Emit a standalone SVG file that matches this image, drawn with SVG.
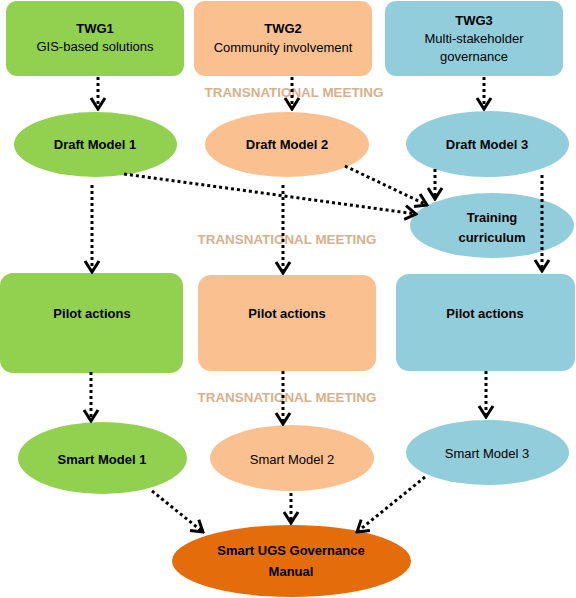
<svg xmlns="http://www.w3.org/2000/svg" width="576" height="598" viewBox="0 0 576 598">
<defs>
<style>
.g{fill:#92D050}.p{fill:#FAC090}.b{fill:#92CDDC}.o{fill:#E46C0A}
text{font-family:"Liberation Sans",Arial,sans-serif;font-size:13px;fill:#000;text-anchor:middle}
.bd{font-weight:bold}
.tm{font-weight:bold;fill:#D8B08C;font-size:13.4px}
.c{fill:none;stroke:#000;stroke-width:3;stroke-dasharray:3 3}
</style>
<marker id="ah" markerUnits="userSpaceOnUse" viewBox="-14 -9 16 18" markerWidth="16" markerHeight="18" refX="0" refY="0" orient="auto">
<path d="M-11,-7 L0,0 L-11,7" fill="none" stroke="#000" stroke-width="3" stroke-dasharray="none"/>
</marker>
</defs>
<g id="labels">
<text class="tm" x="294" y="97">TRANSNATIONAL MEETING</text>
<text class="tm" x="287" y="244">TRANSNATIONAL MEETING</text>
<text class="tm" x="287" y="402">TRANSNATIONAL MEETING</text>
</g>
<g id="twg1"><rect class="g" x="6" y="1" width="178" height="75" rx="11"/><text class="bd" x="95" y="33">TWG1</text><text x="95" y="51">GIS-based solutions</text></g>
<g id="twg2"><rect class="p" x="194" y="1" width="178" height="75" rx="11"/><text class="bd" x="283" y="33">TWG2</text><text x="283" y="52">Community involvement</text></g>
<g id="twg3"><rect class="b" x="385" y="1" width="178" height="75" rx="11"/><text class="bd" x="474" y="25">TWG3</text><text x="474" y="43">Multi-stakeholder</text><text x="474" y="61">governance</text></g>
<g id="draft1"><ellipse class="g" cx="95.5" cy="144.5" rx="81.5" ry="32.5"/><text class="bd" x="95" y="149">Draft Model 1</text></g>
<g id="draft2"><ellipse class="p" cx="287" cy="144.5" rx="82" ry="32.5"/><text class="bd" x="287" y="149">Draft Model 2</text></g>
<g id="draft3"><ellipse class="b" cx="487.5" cy="144" rx="81.5" ry="33"/><text class="bd" x="487" y="149">Draft Model 3</text></g>
<g id="training"><ellipse class="b" cx="492" cy="225.5" rx="82" ry="32.5"/><text class="bd" x="492" y="222">Training</text><text class="bd" x="492" y="242">curriculum</text></g>
<g id="pilot1"><rect class="g" x="0" y="273" width="183" height="100" rx="13"/><text class="bd" x="92" y="318">Pilot actions</text></g>
<g id="pilot2"><rect class="p" x="198" y="275" width="178" height="96" rx="13"/><text class="bd" x="287" y="318">Pilot actions</text></g>
<g id="pilot3"><rect class="b" x="396" y="274" width="179" height="97" rx="13"/><text class="bd" x="485" y="318">Pilot actions</text></g>
<g id="smart1"><ellipse class="g" cx="102.5" cy="458" rx="84.5" ry="36"/><text class="bd" x="102" y="464">Smart Model 1</text></g>
<g id="smart2"><ellipse class="p" cx="292" cy="458" rx="82" ry="33"/><text x="292" y="464">Smart Model 2</text></g>
<g id="smart3"><ellipse class="b" cx="487.5" cy="452.5" rx="81.5" ry="32.5"/><text x="487" y="458">Smart Model 3</text></g>
<g id="manual"><ellipse class="o" cx="291.5" cy="561" rx="119.5" ry="36"/><text class="bd" x="291" y="555">Smart UGS Governance</text><text class="bd" x="291" y="576">Manual</text></g>
<g id="connectors">
<path class="c" marker-end="url(#ah)" d="M98,77 L98,109"/>
<path class="c" marker-end="url(#ah)" d="M292,77 L292,109"/>
<path class="c" marker-end="url(#ah)" d="M484,77 L484,109"/>
<path class="c" marker-end="url(#ah)" d="M92,185 L92,272"/>
<path class="c" marker-end="url(#ah)" d="M283,185 L283,273"/>
<path class="c" marker-end="url(#ah)" d="M542,175 L542,271"/>
<path class="c" marker-end="url(#ah)" d="M124,174 L416,214"/>
<path class="c" marker-end="url(#ah)" d="M345,166 L427,205"/>
<path class="c" marker-end="url(#ah)" d="M435,169 L435,199"/>
<path class="c" marker-end="url(#ah)" d="M91,372 L91,421"/>
<path class="c" marker-end="url(#ah)" d="M283,371 L283,424"/>
<path class="c" marker-end="url(#ah)" d="M486,371 L486,417"/>
<path class="c" marker-end="url(#ah)" d="M152,491 L203,532"/>
<path class="c" marker-end="url(#ah)" d="M291,493 L291,523"/>
<path class="c" marker-end="url(#ah)" d="M425,477 L357,532"/>
</g>
</svg>
